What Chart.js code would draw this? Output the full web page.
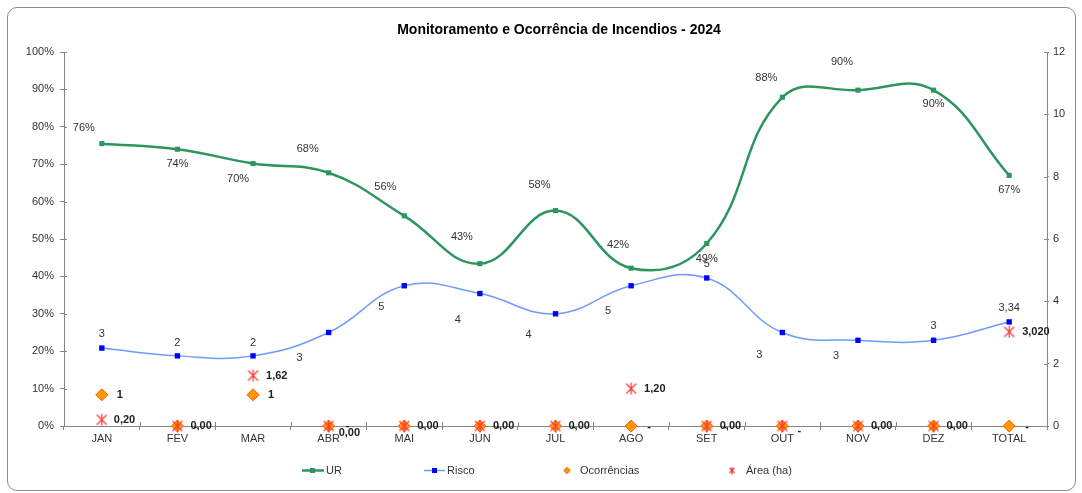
<!DOCTYPE html>
<html><head><meta charset="utf-8">
<script src="https://cdn.jsdelivr.net/npm/chart.js@4.4.0/dist/chart.umd.min.js"></script>
<style>
html,body{margin:0;padding:0;background:#fff;}
#wrap{position:relative;width:1082px;height:493px;}
#frame{position:absolute;left:7px;top:7px;width:1069px;height:484px;border:1px solid #8c8c8c;border-radius:10px;box-sizing:border-box;pointer-events:none;}
canvas{position:absolute;left:0;top:0;}
</style></head><body>
<div id="wrap"><canvas id="c" width="1082" height="493"></canvas><div id="frame"></div></div>
<script>
// ---- data ----
const chartTitle = 'Monitoramento e Ocorrência de Incendios - 2024';
const categories = ['JAN','FEV','MAR','ABR','MAI','JUN','JUL','AGO','SET','OUT','NOV','DEZ','TOTAL'];
const urValues = [75.5,74.0,70.2,67.7,56.2,43.4,57.6,42.2,48.8,87.9,89.8,89.8,67.0];
const urLabels = ['76%','74%','70%','68%','56%','43%','58%','42%','49%','88%','90%','90%','67%'];
const riscoValues = [2.5,2.25,2.25,3.0,4.5,4.25,3.6,4.5,4.75,3.0,2.75,2.75,3.34];
const riscoLabels = ['3','2','2','3','5','4','4','5','5','3','3','3','3,34'];
const ocorrenciasValues = [1,0,1,0,0,0,0,0,0,0,0,0,0];
const ocorrenciasLabels = ['1','-','1','-','-','-','-','-','-','-','-','-','-'];
const areaValues = [0.20,0,1.62,0,0,0,0,1.20,0,0,0,0,3.02];
const areaLabels = ['0,20','0,00','1,62','0,00','0,00','0,00','0,00','1,20','0,00','','0,00','0,00','3,020'];
const seriesNames = ['UR','Risco','Ocorrências','Área (ha)'];
const leftAxis = {min:0, max:100, step:10};
const rightAxis = {min:0, max:12, step:2};

// ---- label placement (style) ----
const urLabelOffsets = [[-18,-16],[0,15],[-15,16],[-21,-24],[-19,-29],[-18,-27],[-16,-26],[-13,-23],[0,15],[-16,-19],[-16,-28],[0,14],[0,15]];
const riscoLabelOffsets = [[0,-14],[0,-13],[0,-13],[-29,25],[-23,21],[-22,26],[-27,21],[-23,25],[0,-14],[-23,22],[-22,16],[0,-14],[0,-14]];
const ocorLabelOffsets = [[18,0],[18,1],[18,0],[19,0],[18,1],[18,1],[18,1],[18,1],[18,1],[17,5],[18,1],[18,1],[18,1]];
const areaLabelOffsets = [[12,0],[13,0],[13,0],[10,7],[13,0],[13,0],[13,0],[13,0],[13,0],[13,0],[13,0],[13,0],[13,0]];

const FONT = '"Liberation Sans", Arial, sans-serif';
const green = '#2E9460';
const blueLine = '#6F9BFF';
const blueMark = '#0000FF';
const orangeFill = '#FF9900';
const orangeBorder = '#FF5A00';
const starColor = '#FF3B3B';
const axisColor = '#868686';

function makeStar(size, color, lw){
  const c = document.createElement('canvas');
  c.width = size; c.height = size;
  const x = c.getContext('2d');
  x.strokeStyle = color; x.lineWidth = lw;
  const a = 1.5, b = size - 1.5, m = size/2;
  x.beginPath();
  x.moveTo(a,a); x.lineTo(b,b);
  x.moveTo(b,a); x.lineTo(a,b);
  x.moveTo(m,0.5); x.lineTo(m,size-0.5);
  x.stroke();
  return c;
}
const starImg = makeStar(13, starColor, 1.3);
const starSmall = makeStar(8, starColor, 1.4);

const labelsPlugin = {
  id:'labelsPlugin',
  afterDatasetsDraw(chart){
    const ctx = chart.ctx;
    ctx.save();
    ctx.textBaseline = 'middle';
    // UR
    ctx.font = '11px ' + FONT; ctx.fillStyle = '#333'; ctx.textAlign = 'center';
    chart.getDatasetMeta(0).data.forEach((p,i)=>{
      ctx.fillText(urLabels[i], p.x + urLabelOffsets[i][0], p.y + urLabelOffsets[i][1]);
    });
    chart.getDatasetMeta(1).data.forEach((p,i)=>{
      ctx.fillText(riscoLabels[i], p.x + riscoLabelOffsets[i][0], p.y + riscoLabelOffsets[i][1]);
    });
    ctx.font = 'bold 11px ' + FONT; ctx.fillStyle = '#222';
    chart.getDatasetMeta(2).data.forEach((p,i)=>{
      ctx.fillText(ocorrenciasLabels[i], p.x + ocorLabelOffsets[i][0], p.y + ocorLabelOffsets[i][1]);
    });
    ctx.textAlign = 'left';
    chart.getDatasetMeta(3).data.forEach((p,i)=>{
      if(!areaLabels[i]) return;
      ctx.fillText(areaLabels[i], p.x + areaLabelOffsets[i][0], p.y + areaLabelOffsets[i][1]);
    });
    ctx.restore();
  }
};

const decorPlugin = {
  id:'decorPlugin',
  beforeDatasetsDraw(chart){
    const ctx = chart.ctx, a = chart.chartArea;
    ctx.save();
    ctx.strokeStyle = axisColor; ctx.lineWidth = 1;
    ctx.beginPath();
    const yl = chart.scales.y, yr = chart.scales.y1, xs = chart.scales.x;
    yl.ticks.forEach((t,i)=>{ const y = Math.round(yl.getPixelForTick(i))+0.5; ctx.moveTo(a.left, y); ctx.lineTo(a.left+3, y); });
    yr.ticks.forEach((t,i)=>{ const y = Math.round(yr.getPixelForTick(i))+0.5; ctx.moveTo(a.right, y); ctx.lineTo(a.right-3, y); });
    const n = categories.length, w = (a.right - a.left)/n;
    for(let i=0;i<=n;i++){ const x = Math.round(a.left + i*w)+0.5; ctx.moveTo(x, a.bottom); ctx.lineTo(x, a.bottom-4); }
    ctx.stroke();
    ctx.restore();
  },
  afterDraw(chart){
    const ctx = chart.ctx;
    ctx.save();
    // title
    ctx.font = 'bold 14px ' + FONT; ctx.fillStyle = '#000';
    ctx.textAlign = 'center'; ctx.textBaseline = 'middle';
    ctx.fillText(chartTitle, 559, 30);
    // legend
    const ly = 470.5;
    ctx.font = '11px ' + FONT; ctx.fillStyle = '#333'; ctx.textAlign = 'left';
    // UR
    ctx.strokeStyle = green; ctx.lineWidth = 2.5;
    ctx.beginPath(); ctx.moveTo(302, ly); ctx.lineTo(324, ly); ctx.stroke();
    ctx.fillStyle = green; ctx.fillRect(310, ly-2.5, 5, 5);
    ctx.fillStyle = '#333'; ctx.fillText(seriesNames[0], 326, ly);
    // Risco
    ctx.strokeStyle = blueLine; ctx.lineWidth = 1.5;
    ctx.beginPath(); ctx.moveTo(424, ly); ctx.lineTo(445, ly); ctx.stroke();
    ctx.fillStyle = blueMark; ctx.fillRect(432, ly-2.5, 5, 5);
    ctx.fillStyle = '#333'; ctx.fillText(seriesNames[1], 447, ly);
    // Ocorrências
    ctx.fillStyle = orangeFill; ctx.strokeStyle = orangeBorder; ctx.lineWidth = 1;
    ctx.beginPath(); ctx.moveTo(567-3.2, ly); ctx.lineTo(567, ly-3.2); ctx.lineTo(567+3.2, ly); ctx.lineTo(567, ly+3.2); ctx.closePath(); ctx.fill(); ctx.stroke();
    ctx.fillStyle = '#333'; ctx.fillText(seriesNames[2], 580, ly);
    // Área
    ctx.drawImage(starSmall, 732-4, ly-4);
    ctx.fillText(seriesNames[3], 746, ly);
    ctx.restore();
  }
};

new Chart(document.getElementById('c'), {
  type:'line',
  data:{
    labels: categories,
    datasets:[
      {label:seriesNames[0], data:urValues, yAxisID:'y', borderColor:green, backgroundColor:green, borderWidth:2.5,
       pointStyle:'rect', pointRadius:3.6, pointBorderWidth:0, pointBackgroundColor:green, tension:0.42, order:3, clip:false},
      {label:seriesNames[1], data:riscoValues, yAxisID:'y1', borderColor:blueLine, backgroundColor:blueMark, borderWidth:1.5,
       pointStyle:'rect', pointRadius:3.8, pointBorderWidth:0, pointBackgroundColor:blueMark, tension:0.42, order:2, clip:false},
      {label:seriesNames[2], data:ocorrenciasValues, yAxisID:'y1', showLine:false, pointStyle:'rectRot', pointRadius:6,
       pointBackgroundColor:orangeFill, pointBorderColor:orangeBorder, pointBorderWidth:1, order:1, clip:false},
      {label:seriesNames[3], data:areaValues, yAxisID:'y1', showLine:false, pointStyle:starImg, pointRadius:6,
       order:0, clip:false}
    ]
  },
  options:{
    responsive:false, animation:false, devicePixelRatio:1,
    layout:{padding:{top:52, bottom:42, left:0, right:0}},
    plugins:{legend:{display:false}, title:{display:false}, tooltip:{enabled:false}},
    scales:{
      x:{offset:true, grid:{offset:true, drawOnChartArea:false, color:axisColor, tickLength:4},
         border:{color:axisColor},
         ticks:{color:'#333', font:{family:FONT, size:11}, padding:2, maxRotation:0, autoSkip:false},
         afterFit(s){ s.height = 25; }},
      y:{position:'left', min:leftAxis.min, max:leftAxis.max,
         grid:{drawOnChartArea:false, color:axisColor, tickLength:4}, border:{color:axisColor},
         ticks:{stepSize:leftAxis.step, color:'#333', font:{family:FONT, size:11}, padding:6, callback:v=>v+'%'},
         afterFit(s){ s.width = 64; }},
      y1:{position:'right', min:rightAxis.min, max:rightAxis.max,
         grid:{drawOnChartArea:false, color:axisColor, tickLength:2}, border:{color:axisColor},
         ticks:{stepSize:rightAxis.step, color:'#333', font:{family:FONT, size:11}, padding:4},
         afterFit(s){ s.width = 35; }}
    }
  },
  plugins:[decorPlugin, labelsPlugin]
});
</script>
</body></html>
